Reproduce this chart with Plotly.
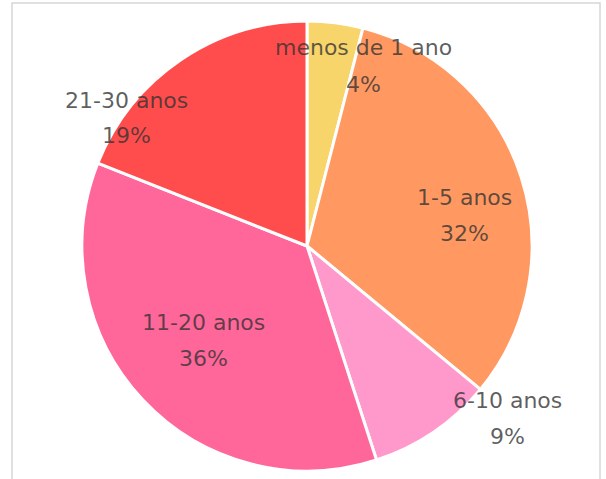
import plotly.graph_objects as go

labels = ["menos de 1 ano", "1-5 anos", "6-10 anos", "11-20 anos", "21-30 anos"]
values = [4, 32, 9, 36, 19]
colors = ["#F8D56B", "#FF9961", "#FF99CC", "#FF6699", "#FF4D4D"]

# layout: label-centre positions in screen pixels (first line), percent line below
label_px = [(363, 48), (464, 197), (507, 400), (203, 322), (126, 100)]
line_gap = 36

W, H = 606, 479
cx, cy, r = 307, 246, 225


def px_to_paper(x, y):
    return x / W, 1 - y / H


total = sum(values)
font = dict(family="DejaVu Sans", size=22, color="rgba(51,51,51,0.78)")
annotations = []
for lab, val, (lx, ly) in zip(labels, values, label_px):
    for txt, yy in ((lab, ly), (f"{round(100 * val / total)}%", ly + line_gap)):
        ax, ay = px_to_paper(lx, yy)
        annotations.append(dict(x=ax, y=ay, xref="paper", yref="paper", text=txt, showarrow=False,
                                xanchor="center", yanchor="middle", font=font))

fig = go.Figure(go.Pie(
    labels=labels, values=values, sort=False, direction="clockwise", rotation=0,
    marker=dict(colors=colors, line=dict(color="white", width=3)),
    textinfo="none", hoverinfo="label+percent", showlegend=False,
    domain=dict(x=[(cx - r) / W, (cx + r) / W], y=[(H - cy - r) / H, (H - cy + r) / H]),
))
bx0, by0 = px_to_paper(12, 3)
bx1, _ = px_to_paper(600, 3)
fig.update_layout(
    width=W, height=H, margin=dict(l=0, r=0, t=0, b=0),
    paper_bgcolor="white", plot_bgcolor="white",
    annotations=annotations,
    shapes=[dict(type="rect", xref="paper", yref="paper", x0=bx0, x1=bx1, y0=-0.05, y1=by0,
                 line=dict(color="#d6d6d6", width=1.5), fillcolor="rgba(0,0,0,0)")],
)
fig.write_html("out.html", config={"displayModeBar": False},
               post_script="document.body.style.margin='0';")
